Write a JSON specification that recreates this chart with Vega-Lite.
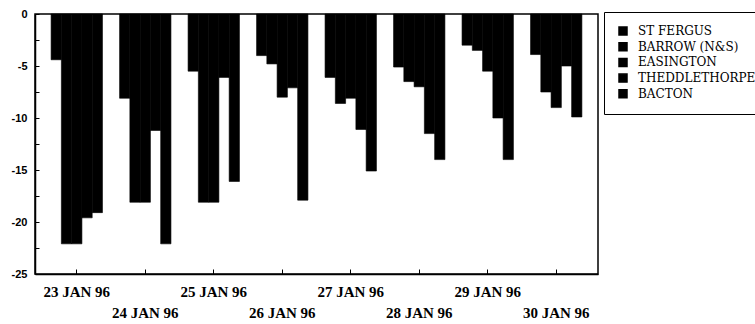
{
  "$schema": "https://vega.github.io/schema/vega-lite/v6.json",
  "width": 563,
  "height": 260,
  "autosize": {"type": "none"},
  "padding": {"left": 35, "top": 14, "right": 157, "bottom": 50},
  "background": "white",
  "data": {
    "values": [
      {"date": "23 JAN 96", "terminal": "ST FERGUS", "value": -4.4},
      {"date": "23 JAN 96", "terminal": "BARROW (N&S)", "value": -22.1},
      {"date": "23 JAN 96", "terminal": "EASINGTON", "value": -22.1},
      {"date": "23 JAN 96", "terminal": "THEDDLETHORPE", "value": -19.6},
      {"date": "23 JAN 96", "terminal": "BACTON", "value": -19.1},
      {"date": "24 JAN 96", "terminal": "ST FERGUS", "value": -8.1},
      {"date": "24 JAN 96", "terminal": "BARROW (N&S)", "value": -18.1},
      {"date": "24 JAN 96", "terminal": "EASINGTON", "value": -18.1},
      {"date": "24 JAN 96", "terminal": "THEDDLETHORPE", "value": -11.2},
      {"date": "24 JAN 96", "terminal": "BACTON", "value": -22.1},
      {"date": "25 JAN 96", "terminal": "ST FERGUS", "value": -5.5},
      {"date": "25 JAN 96", "terminal": "BARROW (N&S)", "value": -18.1},
      {"date": "25 JAN 96", "terminal": "EASINGTON", "value": -18.1},
      {"date": "25 JAN 96", "terminal": "THEDDLETHORPE", "value": -6.1},
      {"date": "25 JAN 96", "terminal": "BACTON", "value": -16.1},
      {"date": "26 JAN 96", "terminal": "ST FERGUS", "value": -4.0},
      {"date": "26 JAN 96", "terminal": "BARROW (N&S)", "value": -4.8},
      {"date": "26 JAN 96", "terminal": "EASINGTON", "value": -8.0},
      {"date": "26 JAN 96", "terminal": "THEDDLETHORPE", "value": -7.1},
      {"date": "26 JAN 96", "terminal": "BACTON", "value": -17.9},
      {"date": "27 JAN 96", "terminal": "ST FERGUS", "value": -6.1},
      {"date": "27 JAN 96", "terminal": "BARROW (N&S)", "value": -8.6},
      {"date": "27 JAN 96", "terminal": "EASINGTON", "value": -8.1},
      {"date": "27 JAN 96", "terminal": "THEDDLETHORPE", "value": -11.1},
      {"date": "27 JAN 96", "terminal": "BACTON", "value": -15.1},
      {"date": "28 JAN 96", "terminal": "ST FERGUS", "value": -5.1},
      {"date": "28 JAN 96", "terminal": "BARROW (N&S)", "value": -6.5},
      {"date": "28 JAN 96", "terminal": "EASINGTON", "value": -7.0},
      {"date": "28 JAN 96", "terminal": "THEDDLETHORPE", "value": -11.5},
      {"date": "28 JAN 96", "terminal": "BACTON", "value": -14.0},
      {"date": "29 JAN 96", "terminal": "ST FERGUS", "value": -3.0},
      {"date": "29 JAN 96", "terminal": "BARROW (N&S)", "value": -3.5},
      {"date": "29 JAN 96", "terminal": "EASINGTON", "value": -5.5},
      {"date": "29 JAN 96", "terminal": "THEDDLETHORPE", "value": -10.0},
      {"date": "29 JAN 96", "terminal": "BACTON", "value": -14.0},
      {"date": "30 JAN 96", "terminal": "ST FERGUS", "value": -3.9},
      {"date": "30 JAN 96", "terminal": "BARROW (N&S)", "value": -7.5},
      {"date": "30 JAN 96", "terminal": "EASINGTON", "value": -9.0},
      {"date": "30 JAN 96", "terminal": "THEDDLETHORPE", "value": -5.0},
      {"date": "30 JAN 96", "terminal": "BACTON", "value": -9.9}
    ]
  },
  "mark": {"type": "bar", "color": "black", "stroke": "black", "strokeWidth": 0.6},
  "encoding": {
    "x": {
      "field": "date",
      "type": "nominal",
      "sort": ["23 JAN 96", "24 JAN 96", "25 JAN 96", "26 JAN 96", "27 JAN 96", "28 JAN 96", "29 JAN 96", "30 JAN 96"],
      "scale": {"paddingInner": 0.25, "paddingOuter": 0.235},
      "axis": {
        "title": null,
        "labelAngle": 0,
        "labelExpr": "parseInt(datum.value) % 2 == 1 ? [datum.value, ''] : ['', datum.value]",
        "labelLineHeight": 21,
        "labelFont": "Liberation Serif",
        "labelFontSize": 15,
        "labelFontWeight": "bold",
        "labelColor": "black",
        "labelPadding": 15,
        "tickSize": -5,
        "tickColor": "black",
        "domainColor": "black",
        "domainWidth": 1.5,
        "labelOverlap": false
      }
    },
    "xOffset": {
      "field": "terminal",
      "sort": ["ST FERGUS", "BARROW (N&S)", "EASINGTON", "THEDDLETHORPE", "BACTON"],
      "scale": {"paddingInner": 0, "paddingOuter": 0}
    },
    "y": {
      "field": "value",
      "type": "quantitative",
      "scale": {"domain": [-25, 0], "nice": false},
      "axis": {
        "title": null,
        "grid": false,
        "values": [0, -2.5, -5, -7.5, -10, -12.5, -15, -17.5, -20, -22.5, -25],
        "labelExpr": "datum.value % 5 == 0 ? toString(datum.value) : ''",
        "labelFont": "Liberation Sans",
        "labelFontSize": 11,
        "labelFontWeight": "bold",
        "labelColor": "black",
        "labelPadding": 12,
        "tickSize": -4,
        "tickColor": "black",
        "domainColor": "black",
        "domainWidth": 1.5,
        "labelOverlap": false
      }
    },
    "color": {
      "field": "terminal",
      "type": "nominal",
      "sort": ["ST FERGUS", "BARROW (N&S)", "EASINGTON", "THEDDLETHORPE", "BACTON"],
      "scale": {"range": ["black", "black", "black", "black", "black"]},
      "legend": {
        "title": null,
        "orient": "none",
        "legendX": 569,
        "legendY": -2,
        "symbolType": "square",
        "symbolSize": 64,
        "symbolStrokeColor": "black",
        "labelFont": "DejaVu Serif",
        "labelFontSize": 12,
        "labelColor": "black",
        "labelOffset": 9,
        "strokeColor": "black",
        "padding": 13,
        "rowPadding": 1.7
      }
    }
  },
  "config": {
    "view": {"stroke": "black", "strokeWidth": 1.5}
  }
}
